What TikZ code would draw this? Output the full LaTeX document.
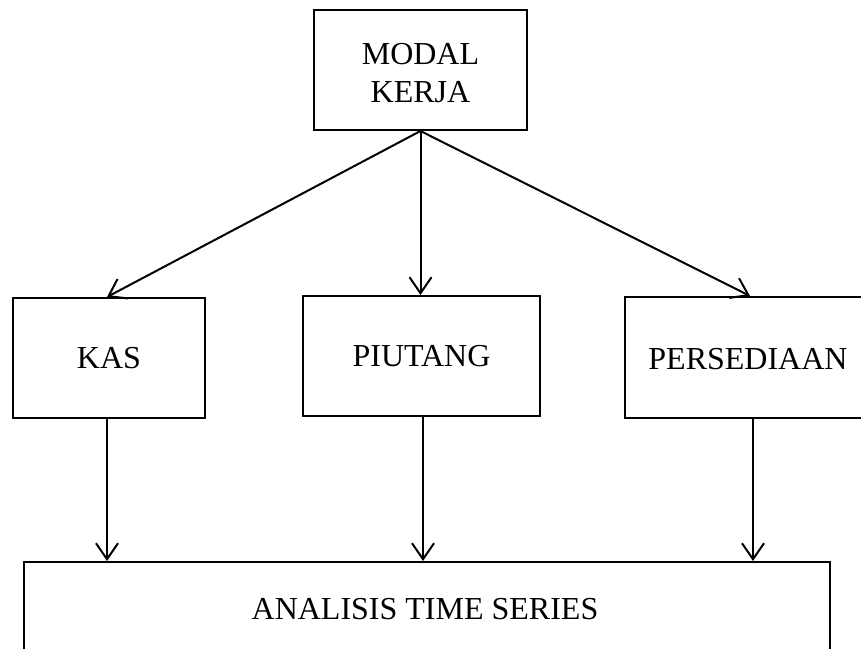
\documentclass[tikz,border=0pt]{standalone}
\usepackage{fontspec}
\setmainfont{Liberation Serif}
\usetikzlibrary{arrows.meta,calc}
\begin{document}
\begin{tikzpicture}[x=1pt,y=-1pt,
  box/.style={draw=black,line width=2pt,inner sep=0pt,align=center,
    font=\fontsize{32}{38}\selectfont},
  conn/.style={line width=2pt,-{Straight Barb[length=16pt,width=22pt,line width=2pt]}}]
\useasboundingbox (0,0) rectangle (861,648);
\node[box,minimum width=213pt,minimum height=120pt] (modal) at (420.5,70) {};
\node[font=\fontsize{32}{38}\selectfont,inner sep=0pt,align=center] (modaltext) at (420.5,73) {MODAL\\KERJA};
\node[box,minimum width=192pt,minimum height=120pt] (kas) at (109,358) {KAS};
\node[box,minimum width=237pt,minimum height=120pt] (piutang) at (421.5,356) {PIUTANG};
\node[box,minimum width=250pt,minimum height=121pt] (persediaan) at (750,357.5) {};
\node[font=\fontsize{32}{38}\selectfont,inner sep=0pt] (perstext) at (748,359) {PERSEDIAAN};
\node[box,minimum width=806pt,minimum height=92pt] (analisis) at (427,608) {};
\node[font=\fontsize{32}{38}\selectfont,inner sep=0pt] (antext) at (425,609) {ANALISIS TIME SERIES};
\draw[conn] (modal.south) -- ($(kas.north)+(-2,0)$);
\draw[conn] (modal.south) -- (piutang.north -| modal.south);
\draw[conn] (modal.south) -- (persediaan.north);
\draw[conn] ($(kas.south)+(-2,0)$) coordinate (k1) -- (k1 |- analisis.north);
\draw[conn] ($(piutang.south)+(1.5,0)$) coordinate (p1) -- (p1 |- analisis.north);
\draw[conn] ($(persediaan.south)+(3,0)$) coordinate (s1) -- (s1 |- analisis.north);
\end{tikzpicture}
\end{document}
